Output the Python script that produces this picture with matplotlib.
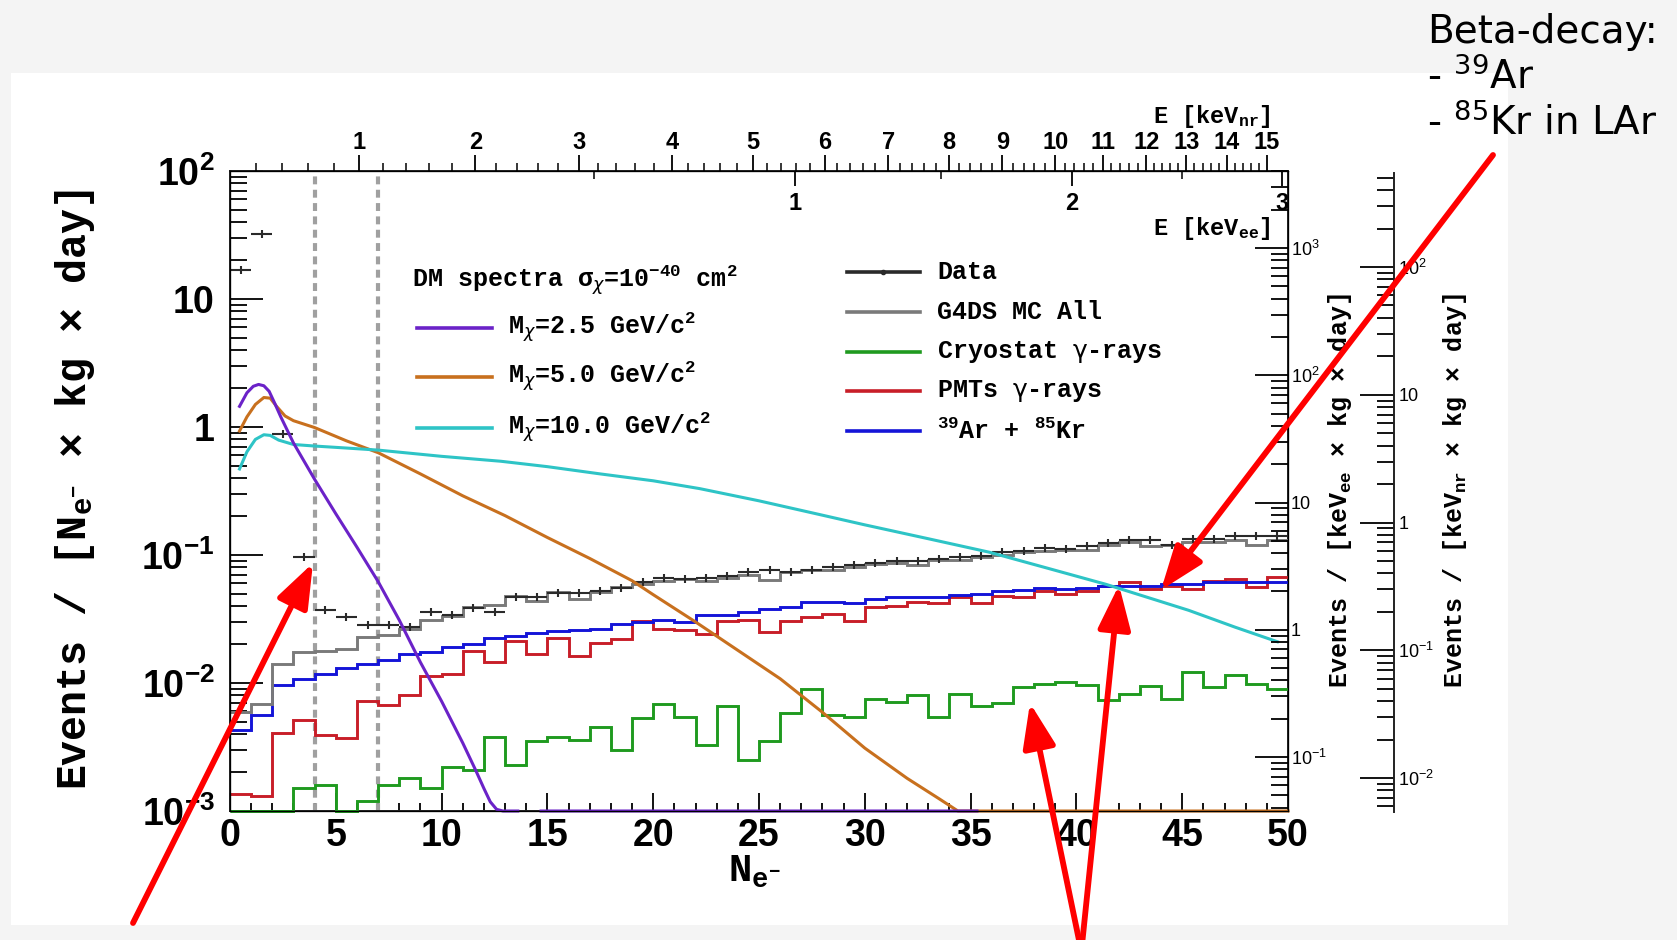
import numpy as np
import matplotlib
matplotlib.use('Agg')
import matplotlib.pyplot as plt
from matplotlib.lines import Line2D
from matplotlib.patches import Rectangle, FancyArrowPatch
from matplotlib.ticker import LogLocator, NullFormatter

plt.rcParams['mathtext.default'] = 'regular'
plt.rcParams['font.family'] = ['Liberation Sans', 'DejaVu Sans']

W, H = 1677, 940
MONO = ['Liberation Mono', 'DejaVu Sans Mono']

# ---------------- data ----------------
bin_edges = np.arange(0, 51, 1)
bin_centers = np.arange(0.5, 50, 1)

data_vals = [17, 32, 0.88, 0.097, 0.037, 0.033, 0.0286, 0.0286, 0.0274, 0.036,
             0.034, 0.0385, 0.036, 0.047, 0.047, 0.0505, 0.0505, 0.052, 0.055, 0.061,
             0.066, 0.065, 0.066, 0.068, 0.073, 0.077, 0.074, 0.077, 0.080, 0.083,
             0.087, 0.089, 0.089, 0.093, 0.096, 0.099, 0.105, 0.107, 0.113, 0.112,
             0.117, 0.124, 0.130, 0.130, 0.120, 0.133, 0.133, 0.140, 0.140, 0.140]

mc_all = [0.0059, 0.0069, 0.0141, 0.0174, 0.0177, 0.0185, 0.0228, 0.0239, 0.0262, 0.031,
          0.0335, 0.039, 0.041, 0.048, 0.044, 0.051, 0.045, 0.051, 0.056, 0.059,
          0.063, 0.065, 0.063, 0.066, 0.070, 0.064, 0.074, 0.077, 0.077, 0.080,
          0.085, 0.087, 0.084, 0.092, 0.092, 0.096, 0.100, 0.105, 0.107, 0.110,
          0.110, 0.120, 0.126, 0.118, 0.120, 0.127, 0.127, 0.130, 0.120, 0.130]

cryostat = [0.001, 0.001, 0.001, 0.0015, 0.0016, 0.001, 0.0012, 0.0016, 0.0018, 0.0015,
            0.0022, 0.0021, 0.0038, 0.0023, 0.0035, 0.0038, 0.0036, 0.0045, 0.0030, 0.0053,
            0.0069, 0.0054, 0.0033, 0.0066, 0.0025, 0.0035, 0.0058, 0.0089, 0.0056, 0.0054,
            0.0075, 0.0071, 0.0081, 0.0054, 0.0082, 0.0066, 0.0070, 0.0093, 0.0099, 0.0102,
            0.0097, 0.0073, 0.0082, 0.0094, 0.0075, 0.0121, 0.0093, 0.0115, 0.0098, 0.0090]

pmts = [0.00136, 0.0013, 0.0041, 0.0051, 0.0039, 0.00375, 0.0072, 0.0067, 0.0080, 0.0113,
        0.0118, 0.0177, 0.0146, 0.0212, 0.0170, 0.0225, 0.0163, 0.0207, 0.0220, 0.0304,
        0.0265, 0.026, 0.0242, 0.0303, 0.031, 0.025, 0.0306, 0.033, 0.0347, 0.0303,
        0.039, 0.040, 0.0427, 0.042, 0.0467, 0.042, 0.048, 0.0467, 0.0526, 0.050,
        0.0526, 0.0575, 0.061, 0.054, 0.0575, 0.054, 0.063, 0.065, 0.056, 0.0675]

ar_kr = [0.0043, 0.0056, 0.0096, 0.0108, 0.0117, 0.013, 0.014, 0.0152, 0.0167, 0.0174,
         0.0192, 0.0203, 0.0226, 0.0233, 0.0247, 0.0257, 0.026, 0.0266, 0.0288, 0.030,
         0.031, 0.030, 0.034, 0.034, 0.036, 0.038, 0.039, 0.0427, 0.043, 0.042,
         0.045, 0.047, 0.047, 0.047, 0.049, 0.050, 0.052, 0.053, 0.055, 0.054,
         0.055, 0.0575, 0.0575, 0.0575, 0.059, 0.059, 0.061, 0.061, 0.061, 0.062]

dm25_ne = [0.45, 0.8, 1.1, 1.35, 1.6, 1.85, 2.1, 2.4, 3.0, 4.0, 5.0, 6.0, 7.0, 8.0, 9.0,
           10.0, 11.0, 11.6, 12.0, 12.3, 12.6, 12.9, 13.6, np.nan, 14.7, 35.3]
dm25_val = [1.45, 1.85, 2.08, 2.15, 2.1, 1.9, 1.55, 1.2, 0.75, 0.39, 0.21, 0.115, 0.062, 0.031, 0.0145,
            0.0072, 0.0034, 0.0021, 0.0015, 0.00118, 0.00103, 0.001, 0.001, np.nan, 0.001, 0.001]

dm50_ne = [0.45, 0.8, 1.2, 1.6, 1.9, 2.2, 2.6, 3.0, 4.0, 5.5, 7.0, 9.0, 11.0, 13.0, 15.0,
           17.0, 19.0, 20.0, 22.0, 24.0, 26.0, 28.0, 30.0, 32.0, 33.5, 34.4, 50.0]
dm50_val = [0.93, 1.2, 1.5, 1.7, 1.68, 1.45, 1.22, 1.12, 0.99, 0.78, 0.63, 0.43, 0.29, 0.203, 0.137,
            0.094, 0.063, 0.049, 0.030, 0.018, 0.0108, 0.0059, 0.0031, 0.0018, 0.00125, 0.001, 0.001]

dm100_ne = [0.45, 0.8, 1.2, 1.6, 1.9, 2.3, 3.0, 4.0, 5.5, 7.0, 10.0, 12.8, 15.0, 17.5, 20.0,
            22.2, 25.0, 27.7, 30.0, 33.0, 35.9, 38.5, 41.4, 45.3, 47.5, 49.5]
dm100_val = [0.47, 0.64, 0.8, 0.87, 0.86, 0.79, 0.73, 0.71, 0.685, 0.66, 0.59, 0.54, 0.49, 0.43, 0.38,
             0.33, 0.265, 0.21, 0.172, 0.134, 0.105, 0.08, 0.059, 0.037, 0.0273, 0.021]

cut_lines = [4, 7]

keVnr_vals = [1, 2, 3, 4, 5, 6, 7, 8, 9, 10, 11, 12, 13, 14, 15]
keVnr_ne = [6.12, 11.6, 16.5, 20.9, 24.7, 28.1, 31.1, 33.96, 36.5, 39.0, 41.24, 43.3, 45.2, 47.1, 49.0]
keVee_major_vals = ['1', '2', '3']
keVee_major_ne = [26.7, 39.8, 49.7]
keVee_minor_ne = [17.2, 33.6, 45.0]

main_yticks = [1e-3, 1e-2, 1e-1, 1, 10, 100]
main_ylabels = ['$10^{-3}$', '$10^{-2}$', '$10^{-1}$', '1', '10', '$10^{2}$']
ee_yticks = [1e-1, 1, 10, 100, 1000]
ee_ylabels = ['$10^{-1}$', '1', '10', '$10^{2}$', '$10^{3}$']
nr_yticks = [1e-2, 1e-1, 1, 10, 100]
nr_ylabels = ['$10^{-2}$', '$10^{-1}$', '1', '10', '$10^{2}$']

# ---------------- colours ----------------
C_PURPLE = '#6b22c8'
C_ORANGE = '#c8701e'
C_CYAN = '#2ec4c6'
C_GREEN = '#1f9a1f'
C_RED = '#c81e28'
C_BLUE = '#1414d8'
C_MC = '#7a7a7a'
C_DATA = '#2a2a2a'

fig = plt.figure(figsize=(W / 100, H / 100), dpi=100, facecolor='#f4f4f4')
fig.patches.append(Rectangle((11 / W, 1 - 925 / H), (1508 - 11) / W, (925 - 73) / H,
                             transform=fig.transFigure, facecolor='white',
                             edgecolor='none', zorder=-10))


def fx(x):
    return x / W


def fy(y):
    return 1 - y / H


ax = fig.add_axes([fx(230), fy(811), (1288 - 230) / W, (811 - 171) / H])
ax.set_yscale('log')
ax.set_xlim(0, 50)
ax.set_ylim(1e-3, 1e2)
for s in ax.spines.values():
    s.set_linewidth(1.4)
    s.set_color('#222222')

# histograms
hist_lw = 2.1
ax.stairs(cryostat, bin_edges, color=C_GREEN, lw=hist_lw, baseline=None, clip_on=False, zorder=3)
ax.stairs(pmts, bin_edges, color=C_RED, lw=hist_lw, baseline=None, clip_on=False, zorder=3)
ax.stairs(ar_kr, bin_edges, color=C_BLUE, lw=hist_lw, baseline=None, clip_on=False, zorder=3)
ax.stairs(mc_all, bin_edges, color=C_MC, lw=hist_lw, baseline=None, clip_on=False, zorder=4)

# data
ax.errorbar(bin_centers, data_vals, xerr=0.5, fmt='none', ecolor=C_DATA, elinewidth=1.5, zorder=5)
ax.plot(bin_centers, data_vals, ls='none', marker='|', ms=6, mew=1.5, color=C_DATA, zorder=5)

# DM curves
ax.plot(dm50_ne, dm50_val, color=C_ORANGE, lw=2.2, clip_on=False, zorder=6)
ax.plot(dm100_ne, dm100_val, color=C_CYAN, lw=2.2, clip_on=False, zorder=6)
ax.plot(dm25_ne, dm25_val, color=C_PURPLE, lw=2.2, clip_on=False, zorder=6)

# cut lines
for c in cut_lines:
    ax.axvline(c, color='#a0a0a0', lw=3.0, ls=(0, (1.9, 1.3)), zorder=2)

# main ticks
ax.set_xticks(np.arange(0, 51, 5), labels=[str(v) for v in range(0, 51, 5)],
              fontsize=27, fontweight='bold')
ax.set_xticks(np.arange(0, 51, 1), minor=True)
ax.tick_params(axis='x', which='major', direction='in', length=13, width=1.3,
               top=False, bottom=True, pad=5)
ax.tick_params(axis='x', which='minor', direction='in', length=6, width=1.3,
               top=False, bottom=True)
ax.set_yticks(main_yticks, labels=main_ylabels, fontsize=27, fontweight='bold')
ax.yaxis.set_minor_locator(LogLocator(base=10, subs=np.arange(2, 10), numticks=30))
ax.yaxis.set_minor_formatter(NullFormatter())
ax.tick_params(axis='y', which='major', direction='in', length=24, width=1.3,
               left=True, right=False, pad=11)
ax.tick_params(axis='y', which='minor', direction='in', length=12, width=1.3,
               left=True, right=False)

# top keVnr axis
ax_nr = ax.twiny()
ax_nr.set_xlim(0, 50)
ax_nr.set_xticks(keVnr_ne, labels=[str(v) for v in keVnr_vals], fontsize=17, fontweight='bold')
nr_minor_vals = np.arange(0.2, 15.0, 0.2)
ax_nr.set_xticks(np.interp(nr_minor_vals, [0] + keVnr_vals, [0] + keVnr_ne), minor=True)
ax_nr.tick_params(axis='x', which='major', direction='out', length=11.5, width=1.3,
                  top=True, bottom=False, labeltop=True, labelbottom=False, pad=1)
ax_nr.tick_params(axis='x', which='minor', direction='out', length=6, width=1.1,
                  top=True, bottom=False)

# top keVee axis (inside)
ax_ee = ax.twiny()
ax_ee.set_xlim(0, 50)
ax_ee.set_xticks(keVee_major_ne, labels=keVee_major_vals, fontsize=17, fontweight='bold')
ax_ee.set_xticks(keVee_minor_ne, minor=True)
ax_ee.tick_params(axis='x', which='major', direction='in', length=11, width=1.3,
                  top=True, bottom=False, labeltop=True, labelbottom=False, pad=-31.5)
ax_ee.tick_params(axis='x', which='minor', direction='in', length=6, width=1.1,
                  top=True, bottom=False)

# right keVee axis
ax_r = ax.twinx()
ax_r.set_yscale('log')
ax_r.set_ylim(10 ** -1.424, 10 ** 3.605)
ax_r.set_yticks(ee_yticks, labels=ee_ylabels, fontsize=13)
ax_r.yaxis.set_minor_locator(LogLocator(base=10, subs=np.arange(2, 10), numticks=30))
ax_r.yaxis.set_minor_formatter(NullFormatter())
ax_r.tick_params(axis='y', which='major', direction='in', length=24, width=1.3,
                 right=True, left=False, pad=2)
ax_r.tick_params(axis='y', which='minor', direction='in', length=12, width=1.3,
                 right=True, left=False)

# separate keVnr axis on the far right
ax3 = fig.add_axes([fx(1394), fy(812), 0.0004, (812 - 173) / H])
ax3.patch.set_visible(False)
for k in ['top', 'bottom', 'right']:
    ax3.spines[k].set_visible(False)
ax3.spines['left'].set_linewidth(1.4)
ax3.spines['left'].set_color('#222222')
ax3.xaxis.set_visible(False)
ax3.set_yscale('log')
ax3.set_ylim(10 ** -2.266, 10 ** 2.736)
ax3.set_yticks(nr_yticks, labels=nr_ylabels, fontsize=13)
ax3.yaxis.set_minor_locator(LogLocator(base=10, subs=np.arange(2, 10), numticks=30))
ax3.yaxis.set_minor_formatter(NullFormatter())
ax3.tick_params(axis='y', which='major', direction='out', length=24.5, width=1.3,
                left=True, right=False, labelleft=False, labelright=True, pad=-22)
ax3.tick_params(axis='y', which='minor', direction='out', length=12, width=1.3,
                left=True, right=False)

# axis titles
fig.text(fx(75), fy(489), 'Events / [N$_{e^{-}}$ × kg × day]', rotation=90,
         ha='center', va='center', fontsize=30, family=MONO, weight='bold')
fig.text(fx(754), fy(872), 'N$_{e^{-}}$', ha='center', va='center',
         fontsize=28, family=MONO, weight='bold')
fig.text(fx(1271), fy(116), 'E [keV$_{nr}$]', ha='right', va='center',
         fontsize=17, family=MONO, weight='bold')
fig.text(fx(1271), fy(228), 'E [keV$_{ee}$]', ha='right', va='center',
         fontsize=17, family=MONO, weight='bold')
fig.text(fx(1340), fy(491), 'Events / [keV$_{ee}$ × kg × day]', rotation=90,
         ha='center', va='center', fontsize=18, family=MONO, weight='bold')
fig.text(fx(1455), fy(491), 'Events / [keV$_{nr}$ × kg × day]', rotation=90,
         ha='center', va='center', fontsize=18, family=MONO, weight='bold')

# legends (manual)
LEG_FS = 18
CHI = r'$_{\mathit{\chi}}$'
fig.text(fx(412), fy(281), 'DM spectra σ' + CHI + '=10$^{-40}$ cm$^{2}$', va='center',
         fontsize=LEG_FS, family=MONO, weight='bold')
dm_entries = [(C_PURPLE, 'M' + CHI + '=2.5 GeV/c$^{2}$', 328),
              (C_ORANGE, 'M' + CHI + '=5.0 GeV/c$^{2}$', 377),
              (C_CYAN, 'M' + CHI + '=10.0 GeV/c$^{2}$', 428)]
for col, lab, yy in dm_entries:
    fig.add_artist(Line2D([fx(417), fx(492)], [fy(yy), fy(yy)], color=col, lw=2.6,
                          transform=fig.transFigure))
    fig.text(fx(508), fy(yy), lab, va='center', fontsize=LEG_FS, family=MONO, weight='bold')

bg_entries = [(C_DATA, 'Data', 272),
              (C_MC, 'G4DS MC All', 312),
              (C_GREEN, r'Cryostat $\mathrm{\gamma}$-rays', 352),
              (C_RED, r'PMTs $\mathrm{\gamma}$-rays', 391),
              (C_BLUE, '$^{39}$Ar + $^{85}$Kr', 431)]
for col, lab, yy in bg_entries:
    fig.add_artist(Line2D([fx(847), fx(920)], [fy(yy), fy(yy)], color=col, lw=2.6,
                          transform=fig.transFigure))
    if lab == 'Data':
        fig.add_artist(Line2D([fx(883.5)], [fy(yy)], color=col, marker='o', ms=3,
                              transform=fig.transFigure))
    fig.text(fx(937), fy(yy), lab, va='center', fontsize=LEG_FS, family=MONO, weight='bold')

# slide annotations
for y, s in [(43, 'Beta-decay:'), (89, '- $^{39}$Ar'), (135, '- $^{85}$Kr in LAr')]:
    fig.text(fx(1427), fy(y), s, va='baseline', ha='left', fontsize=28,
             family=['DejaVu Sans'], math_fontfamily='dejavusans', color='black')

arrows = [((133, 923), (313, 563)),
          ((1080, 945), (1030, 703)),
          ((1082, 945), (1119, 585)),
          ((1493, 155), (1161, 590))]
for (x0, y0), (x1, y1) in arrows:
    fig.add_artist(FancyArrowPatch((fx(x0), fy(y0)), (fx(x1), fy(y1)),
                                   transform=fig.transFigure,
                                   arrowstyle='-|>,head_length=1.35,head_width=0.5',
                                   mutation_scale=20, color='#ff0000', lw=4.2,
                                   shrinkA=0, shrinkB=0, zorder=20))

fig.savefig('out.png', dpi=100, facecolor=fig.get_facecolor())
